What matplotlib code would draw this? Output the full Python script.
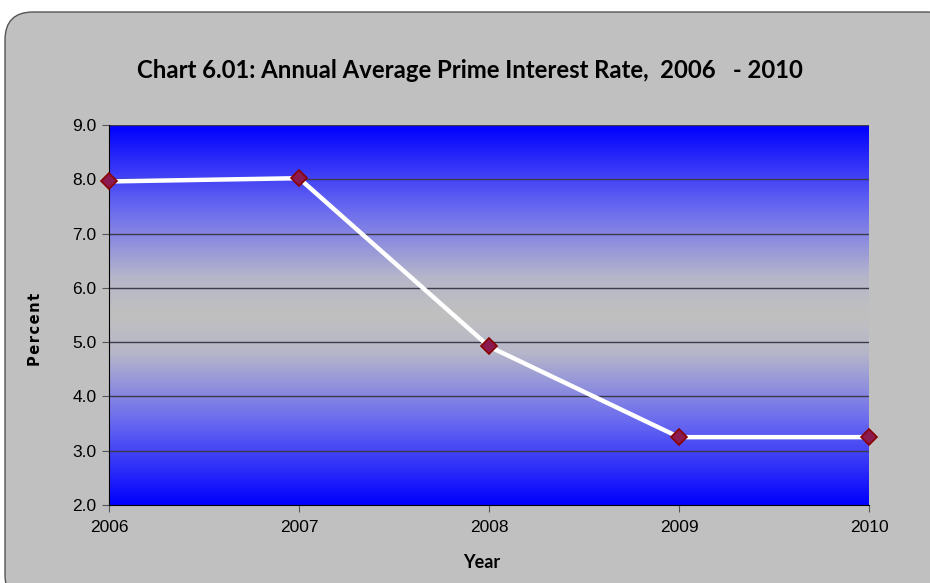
import matplotlib
matplotlib.use("Agg")
import matplotlib.pyplot as plt
import numpy as np
from matplotlib.patches import FancyBboxPatch
from matplotlib.colors import LinearSegmentedColormap

# data
years = [2006, 2007, 2008, 2009, 2010]
rates = [7.96, 8.02, 4.92, 3.25, 3.25]
yticks = [2.0, 3.0, 4.0, 5.0, 6.0, 7.0, 8.0, 9.0]

fig = plt.figure(figsize=(9.3, 5.83), dpi=100)
fig.patch.set_facecolor("white")

# gray rounded panel behind the chart (pixel coords)
panel = FancyBboxPatch((5, -20), 950, 591,
                       boxstyle="round,pad=0,rounding_size=28",
                       transform=None, facecolor="#c0c0c0",
                       edgecolor="#555555", linewidth=1.0, zorder=-5)
fig.patches.append(panel)

ax = fig.add_axes([109 / 930, 78 / 583, 760 / 930, 380 / 583])
ax.set_facecolor("none")
ax.set_zorder(2)

# blue -> gray -> blue gradient fill of the plot area
cmap = LinearSegmentedColormap.from_list(
    "bg", [(0.0, "#0000ff"), (0.22, "#6a6af0"), (0.40, "#b6b6ca"),
           (0.5, "#c0c0c0"), (0.60, "#b6b6ca"), (0.78, "#6a6af0"),
           (1.0, "#0000ff")])
grad = np.linspace(0, 1, 256).reshape(-1, 1)
ax.imshow(grad, cmap=cmap, aspect="auto", extent=[2006, 2010, 2.0, 9.0],
          origin="lower", zorder=0)

ax.set_xlim(2006, 2010)
ax.set_ylim(2.0, 9.0)
ax.set_yticks(yticks)
ax.set_yticklabels(["%.1f" % v for v in yticks])
ax.set_xticks(years)
ax.set_xticklabels([str(y) for y in years])

for v in yticks[1:]:
    ax.axhline(v, color="#3a3a4a", linewidth=1.0, zorder=1)

ax.plot(years, rates, color="white", linewidth=3.2, zorder=3,
        marker="D", markersize=8, markerfacecolor="#8b1a50",
        markeredgecolor="#8b0000", markeredgewidth=1.2, clip_on=False)

for s in ["top", "right"]:
    ax.spines[s].set_visible(False)
ax.spines["left"].set_color("black")
ax.spines["bottom"].set_color("black")
ax.tick_params(axis="both", direction="out", length=5, color="#555555",
               labelsize=12.5)
for lbl in ax.get_xticklabels() + ax.get_yticklabels():
    lbl.set_family("Liberation Sans")
ax.tick_params(axis="x", pad=6)
ax.tick_params(axis="y", pad=4)

fig.text(470 / 930, 1 - 71 / 583,
         "Chart 6.01: Annual Average Prime Interest Rate,  2006   - 2010",
         ha="center", va="center", fontsize=17.2, fontweight="bold",
         family="Lato")
fig.text(35 / 930, 1 - 329 / 583, "\u200a".join("Percent"), rotation=90,
         ha="center", va="center", fontsize=10.5, fontweight="bold",
         family="DejaVu Sans")
fig.text(482 / 930, 1 - 563 / 583, "Year", ha="center", va="center",
         fontsize=13, fontweight="bold", family="Lato")

fig.savefig("out.png", dpi=100, facecolor="white")
